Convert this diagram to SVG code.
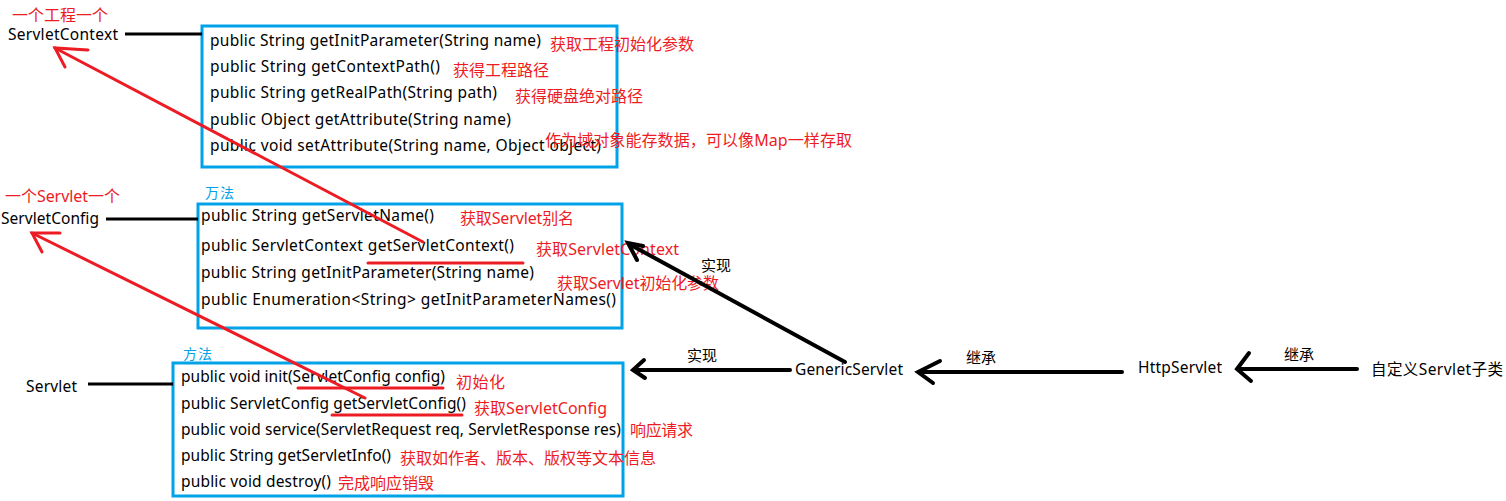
<svg xmlns="http://www.w3.org/2000/svg" width="1506" height="501" viewBox="0 0 1506 501">
<style>
.bg{fill:#ffffff}
.box{fill:none;stroke:#00a2e8;stroke-width:3}
.m{font-family:"Noto Sans","Noto Sans CJK SC",sans-serif;font-size:15.5px;fill:#000}
.n{font-family:"Noto Sans","Noto Sans CJK SC",sans-serif;font-size:15.5px;fill:#000}
.r{font-family:"Noto Sans","Noto Sans CJK SC",sans-serif;font-size:16px;fill:#ed1c24}
.b{font-family:"Noto Sans CJK SC",sans-serif;font-size:14px;fill:#00a2e8}
.k{font-family:"Noto Sans CJK SC",sans-serif;font-size:15px;fill:#000}
.bl{stroke:#000;stroke-width:3;fill:none}
.ba{stroke:#000;stroke-width:4;fill:none;stroke-linecap:round}
.rl{stroke:#ed1c24;stroke-width:3;fill:none;stroke-linecap:round}
</style>
<rect class="bg" width="1506" height="501"/>

<g id="servletcontext">
<text class="r" x="12" y="21" font-size="15" textLength="96">一个工程一个</text>
<text class="n" x="8" y="40" textLength="110">ServletContext</text>
</g>
<g id="servletcontext-methods">
<rect class="box" x="202" y="26" width="415" height="141"/>
<text class="m" x="210" y="46" textLength="331">public String getInitParameter(String name)</text>
<text class="m" x="210" y="72" textLength="230">public String getContextPath()</text>
<text class="m" x="210" y="98" textLength="287">public String getRealPath(String path)</text>
<text class="m" x="210" y="125" textLength="301">public Object getAttribute(String name)</text>
<text class="m" x="210" y="151" textLength="391">public void setAttribute(String name, Object object)</text>
<text class="r" x="550" y="50" textLength="144">获取工程初始化参数</text>
<text class="r" x="453" y="76" textLength="96">获得工程路径</text>
<text class="r" x="515" y="102" textLength="128">获得硬盘绝对路径</text>
<text class="r" x="545" y="146" textLength="307">作为域对象能存数据，可以像Map一样存取</text>
</g>

<g id="servletconfig">
<text class="r" x="5" y="202" textLength="115">一个Servlet一个</text>
<text class="n" x="1" y="224" textLength="98">ServletConfig</text>
</g>
<g id="servletconfig-methods">
<text class="b" x="205" y="198" textLength="29">万法</text>
<rect class="box" x="198" y="204" width="424" height="124"/>
<text class="m" x="201" y="221" textLength="233">public String getServletName()</text>
<text class="m" x="201" y="251" textLength="313">public ServletContext getServletContext()</text>
<text class="m" x="201" y="278" textLength="333">public String getInitParameter(String name)</text>
<text class="m" x="201" y="305" textLength="415">public Enumeration&lt;String&gt; getInitParameterNames()</text>
<text class="r" x="460" y="224" textLength="114">获取Servlet别名</text>
<text class="r" x="536" y="255" textLength="143">获取ServletContext</text>
<text class="r" x="557" y="289" textLength="162">获取Servlet初始化参数</text>
</g>

<g id="servlet">
<text class="n" x="26" y="392" textLength="51">Servlet</text>
</g>
<g id="servlet-methods">
<text class="b" x="183" y="359" textLength="29">方法</text>
<rect class="box" x="173" y="363" width="450" height="133"/>
<text class="m" x="181" y="382" textLength="264">public void init(ServletConfig config)</text>
<text class="m" x="181" y="409" textLength="285">public ServletConfig getServletConfig()</text>
<text class="m" x="181" y="435" textLength="440">public void service(ServletRequest req, ServletResponse res)</text>
<text class="m" x="181" y="461" textLength="210">public String getServletInfo()</text>
<text class="m" x="181" y="487" textLength="150">public void destroy()</text>
<text class="r" x="456" y="388" textLength="49">初始化</text>
<text class="r" x="474" y="414" textLength="133">获取ServletConfig</text>
<text class="r" x="630" y="436" textLength="63">响应请求</text>
<text class="r" x="400" y="464" textLength="256">获取如作者、版本、版权等文本信息</text>
<text class="r" x="338" y="489" textLength="96">完成响应销毁</text>
</g>

<g id="genericservlet">
<text class="n" x="795" y="375" textLength="108">GenericServlet</text>
</g>
<g id="httpservlet">
<text class="n" x="1138" y="373" textLength="84">HttpServlet</text>
</g>
<g id="custom-servlet">
<text class="n" x="1371" y="375" textLength="132">自定义Servlet子类</text>
</g>

<g id="connectors">
<line class="bl" x1="125" y1="34" x2="202" y2="34"/>
<line class="bl" x1="106" y1="219" x2="198" y2="219"/>
<line class="bl" x1="88" y1="384" x2="173" y2="384"/>

<line class="rl" x1="368" y1="263" x2="523" y2="263"/>
<line class="rl" x1="298" y1="388" x2="443" y2="388"/>
<line class="rl" x1="332" y1="415" x2="462" y2="415"/>

<line class="rl" x1="423" y1="242" x2="55" y2="48"/>
<polyline class="rl" points="88,50 55,48 65,67"/>
<line class="rl" x1="365" y1="398" x2="32" y2="233"/>
<polyline class="rl" points="60,233 32,233 42,252"/>

<line class="ba" x1="790" y1="370" x2="634" y2="370"/>
<polyline class="ba" points="644,360 633,370 645,378"/>
<text class="k" x="687" y="361">实现</text>

<line class="ba" x1="845" y1="362" x2="629" y2="244"/>
<polyline class="ba" points="643,246 628,243 637,260"/>
<text class="k" x="701" y="271">实现</text>

<line class="ba" x1="1122" y1="372" x2="919" y2="372"/>
<polyline class="ba" points="940,361 918,372 933,383"/>
<text class="k" x="966" y="363">继承</text>

<line class="ba" x1="1357" y1="369" x2="1239" y2="369"/>
<polyline class="ba" points="1249,353 1237,369 1251,381"/>
<text class="k" x="1284" y="360">继承</text>
</g>
</svg>
